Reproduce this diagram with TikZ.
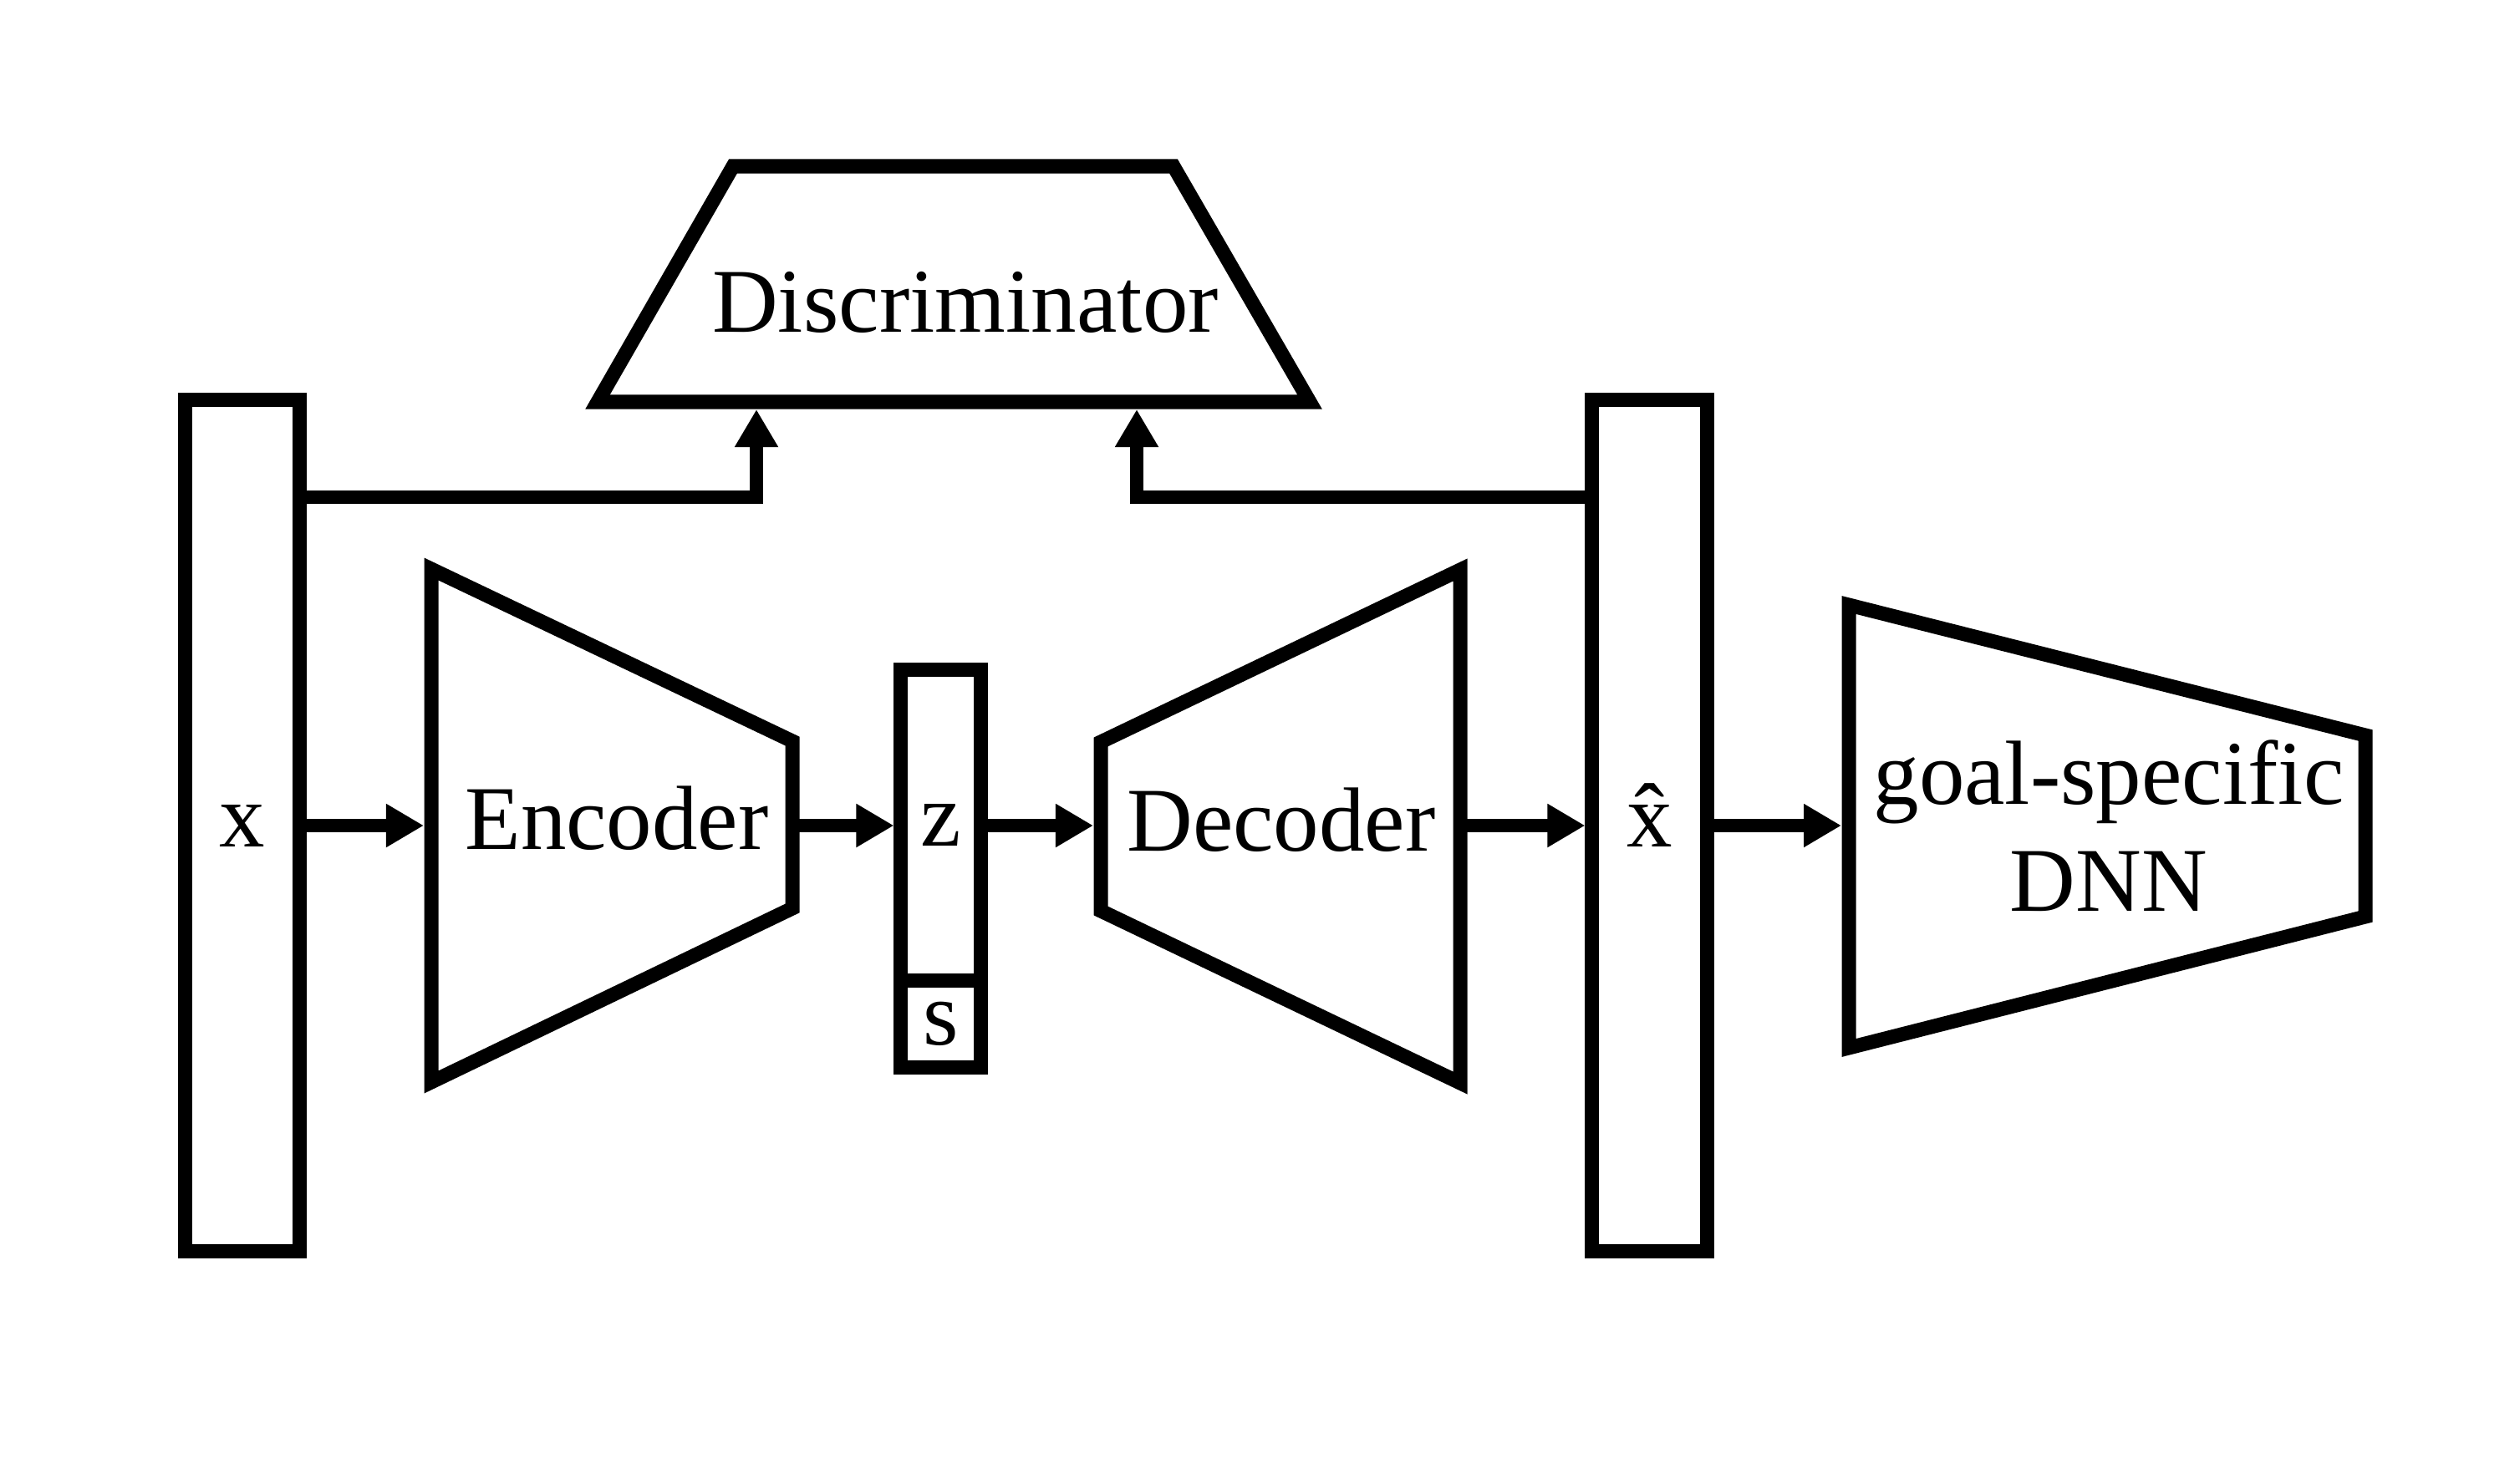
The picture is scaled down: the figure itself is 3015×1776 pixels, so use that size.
\documentclass[tikz,border=0pt]{standalone}
\usepackage{fontspec}
\setmainfont{Liberation Serif}
\usetikzlibrary{arrows.meta,positioning,calc}
\newcommand{\blocktext}{\fontsize{31}{36.3}\selectfont}
\newcommand{\xhat}{{\ooalign{x\cr\hidewidth\char"02C6\hidewidth\cr}}}

\begin{document}
\begin{tikzpicture}[x=0.01cm,y=-0.01cm,
		every node/.style={font=\blocktext},
		vec/.style={draw,line width=0.17cm,inner sep=0pt},
		net/.style={draw,line width=0.17cm,line join=miter},
		>={Triangle[length=0.45cm,width=0.49cm]},
		flow/.style={->,line width=0.16cm}]
		\useasboundingbox (0,0) rectangle (3015,1776);
		% input, code and reconstruction
		\node[vec,minimum width=1.36cm,minimum height=10.19cm] (x) at (290,988) {x};
		\node[vec,minimum width=0.95cm,minimum height=3.71cm] (z) at (1125.5,987.5) {z};
		\node[vec,minimum width=0.95cm,minimum height=1.04cm,below=-0.17cm of z] (s) {s};
		\node[vec,minimum width=1.37cm,minimum height=10.19cm] (xh) at (1973.5,988) {\xhat};
		% networks
		\draw[net] (516,681) -- (948,887) -- (948,1087) -- (516,1295) -- cycle;
		\draw[net] (1317,888) -- (1747,682) -- (1747,1296) -- (1317,1090) -- cycle;
		\draw[net] (2212,724) -- (2830,880) -- (2830,1097) -- (2212,1254) -- cycle;
		\draw[net] (715,481) -- (877,199) -- (1404,199) -- (1567,481) -- cycle;
		\node[anchor=base] (enc) at (738,1016) {Encoder};
		\node[anchor=base] (dec) at (1533,1018) {Decoder};
		\node[anchor=base] (disc) at (1155,398) {Discriminator};
		\node[align=center] (dnn) at (2523,988) {goal-specific\\DNN};
		% ports
		\coordinate (enc-in) at (507,988);
		\coordinate (enc-out) at (948,988);
		\coordinate (dec-in) at (1308,988);
		\coordinate (dec-out) at (1747,988);
		\coordinate (dnn-in) at (2203,988);
		\coordinate (disc-in1) at (905,490);
		\coordinate (disc-in2) at (1360,490);
		\coordinate (tap) at (0,595);
		\draw[flow] (x) -- (enc-in);
		\draw[flow] (enc-out) -- (enc-out -| z.west);
		\draw[flow] (z.east |- dec-in) -- (dec-in);
		\draw[flow] (dec-out) -- (dec-out -| xh.west);
		\draw[flow] (xh) -- (dnn-in);
		\draw[flow] (x.east |- tap) -| (disc-in1);
		\draw[flow] (xh.west |- tap) -| (disc-in2);
\end{tikzpicture}
\end{document}
